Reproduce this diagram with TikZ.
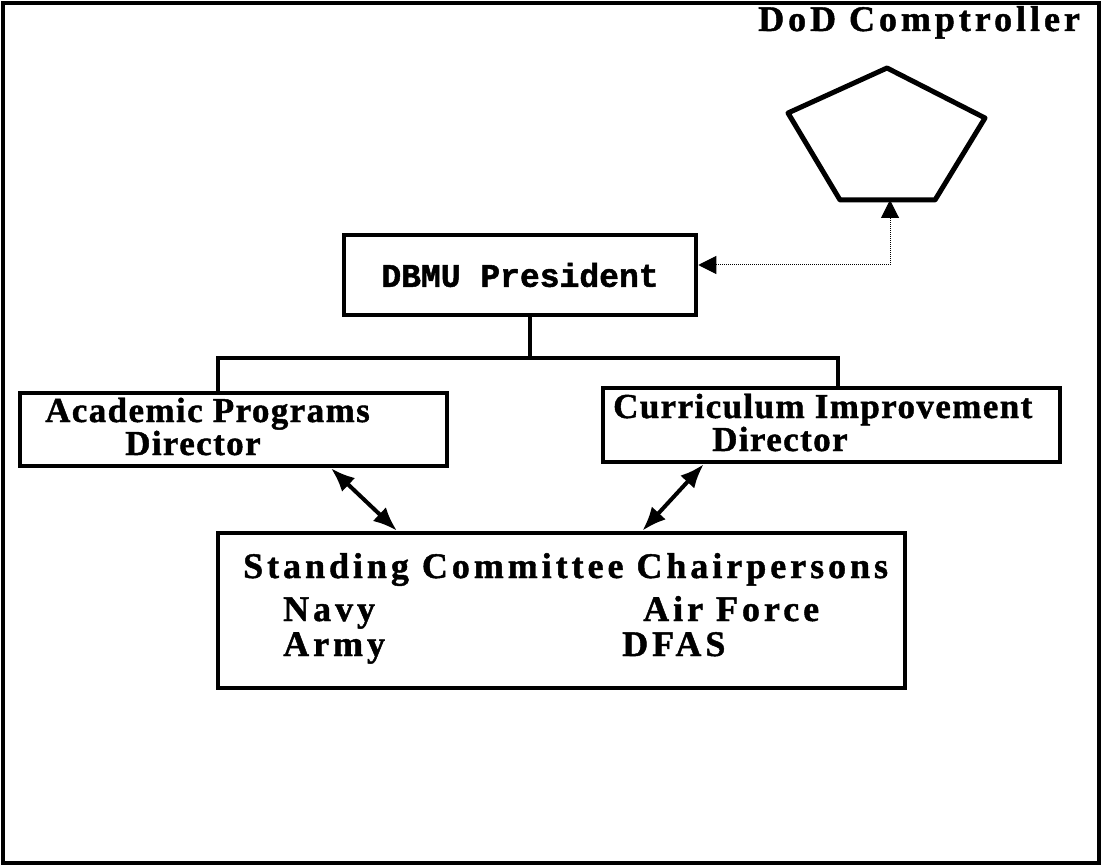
\documentclass[tikz,border=0pt]{standalone}
\usepackage{fontspec}
\setmainfont{Liberation Serif}[BoldFeatures={FakeBold=1.2}]
\newfontfamily\typefont{Liberation Mono}[BoldFeatures={FakeBold=1.5}]
\usetikzlibrary{arrows.meta}
\usetikzlibrary{calc}

\tikzset{
  orgbox/.style={draw, line width=4.5pt, inner sep=0pt},
  chartline/.style={line width=4pt},
  linkarrow/.style={line width=4pt, {Latex[length=24pt,width=19pt]}-{Latex[length=24pt,width=19pt]}},
  reportline/.style={densely dotted, line width=1pt, {Triangle[length=18pt,width=18pt]}-{Triangle[length=18pt,width=18pt]}},
  bigtext/.style={font=\fontsize{36}{40}\selectfont\bfseries\addfontfeatures{LetterSpace=11}, inner sep=0pt},
  boxtext/.style={font=\fontsize{35}{40}\selectfont\bfseries\addfontfeatures{LetterSpace=4}, inner sep=0pt}
}

\begin{document}
\begin{tikzpicture}[x=1pt,y=-1pt]
          \useasboundingbox (0,0) rectangle (1102,866);
          \draw[line width=4.5pt] (3,3) rectangle (1099,863);
          % comptroller
          \node[bigtext, anchor=base west] (dod) at (758,31) {DoD Comptroller};
          \coordinate (dodbase) at (887,200);
          \draw[line width=5pt, line join=round] (887,68) -- (985,118) -- (935,200) -- (840,200) -- (788,113) -- cycle;
          %
          \node[orgbox, minimum width=352pt, minimum height=80pt] (pres) at (520,275) {};
          \node[font=\fontsize{33}{36}\selectfont\typefont\bfseries] (prestxt) at (pres.center) {DBMU President};
          \node[orgbox, minimum width=427pt, minimum height=73pt] (acad) at (233.5,429.5) {};
          \node[boxtext, anchor=base west] (acadtxt) at (45,422) {Academic Programs};
          \node[boxtext, anchor=base west] (acaddir) at (125,455) {Director};
          \node[orgbox, minimum width=457pt, minimum height=74pt] (curr) at (831.5,425) {};
          \node[boxtext, anchor=base west] (currtxt) at (613,418) {Curriculum Improvement};
          \node[boxtext, anchor=base west] (currdir) at (712,451) {Director};
          \node[orgbox, minimum width=687pt, minimum height=155pt] (comm) at (561.5,610.5) {};
          \node[bigtext, anchor=base west] (commtxt) at (243,578) {Standing Committee Chairpersons};
          \node[bigtext, anchor=base west] (navy) at (283,621) {Navy};
          \node[bigtext, anchor=base west] (airforce) at (643,621) {Air Force};
          \node[bigtext, anchor=base west] (army) at (283,656) {Army};
          \node[bigtext, anchor=base west] (dfas) at (622,656) {DFAS};
          % tree lines
          \coordinate (split) at (530,358);
          \coordinate (lknee) at (218,358);
          \coordinate (rknee) at (838,358);
          \draw[chartline] (split |- pres.south) -- (split);
          \draw[chartline] (lknee |- acad.north) -- (lknee) -- (rknee) -- (rknee |- curr.north);
          % reporting
          \coordinate (dknee) at (890,265);
          \draw[reportline] (pres.east |- dknee) -- (dknee) -- (dknee |- dodbase);
          \draw[linkarrow] ($(acad.south west)!0.726!(acad.south east)$) -- ($(comm.north west)!0.262!(comm.north east)$);
          \draw[linkarrow] ($(curr.south west)!0.223!(curr.south east)$) -- ($(comm.north west)!0.617!(comm.north east)$);
        \end{tikzpicture}
\end{document}
